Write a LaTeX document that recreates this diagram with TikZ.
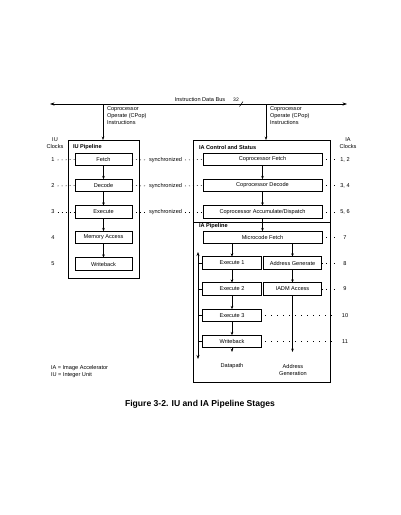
\documentclass[tikz,border=0pt]{standalone}
\usepackage{fontspec}
\setmainfont{Liberation Sans}
\usetikzlibrary{arrows.meta}
\begin{document}
\begin{tikzpicture}[x=1pt,y=-1pt,
  every node/.style={inner sep=0pt,outer sep=0pt},
  txt/.style={font=\fontsize{5.6}{7}\selectfont},
  ttl/.style={font=\fontsize{5.6}{7}\selectfont\bfseries,anchor=west},
  stage/.style={draw,line width=0.6pt,minimum height=12.5pt,font=\fontsize{5.6}{7}\selectfont},
  iustage/.style={stage,minimum width=57pt},
  cstage/.style={stage,minimum width=119pt},
  hstage/.style={stage,minimum width=58.5pt},
  frame/.style={draw,line width=0.8pt},
  arr/.style={line width=0.6pt,-{Stealth[length=3.4pt,width=2.6pt]}},
  dots/.style={line width=0.5pt,dash pattern=on 1pt off 3pt},
  sparsedots/.style={line width=0.6pt,dash pattern=on 1pt off 5pt}]
\useasboundingbox (0,0) rectangle (400,515);
\fill[white] (0,0) rectangle (400,515);

% bus
\coordinate (busL) at (50,104);
\coordinate (busR) at (347,104);
\draw[line width=0.7pt,{Stealth[length=4.5pt,width=3.2pt]}-{Stealth[length=4.5pt,width=3.2pt]}] (busL) -- (busR);
\node[txt] (busT) at (200,99) {Instruction Data Bus};
\node[txt,font=\fontsize{5}{6}\selectfont] (w32) at (236,100) {32};
\coordinate (s1) at (239.5,106.5);
\coordinate (s2) at (243,101.5);
\draw[line width=0.5pt] (s1) -- (s2);
\coordinate (dL) at (103,104);
\coordinate (dR) at (266,104);

% frames
\node[frame,minimum width=71pt,minimum height=138pt,anchor=north west] (iu) at (68,140) {};
\node[frame,minimum width=137pt,minimum height=242pt,anchor=north west] (ia) at (193,140) {};
\coordinate (divL) at (193,222);
\coordinate (divR) at (330,222);
\draw[line width=0.6pt] (divL) -- (divR);

\draw[arr] (dL) -- (dL |- iu.north);
\draw[arr] (dR) -- (dR |- ia.north);
\node[txt,anchor=north west,align=left] (cpL) at (107,107) {Coprocessor\\Operate (CPop)\\Instructions};
\node[txt,anchor=north west,align=left] (cpR) at (270,107) {Coprocessor\\Operate (CPop)\\Instructions};

\node[txt,align=center] (iuclk) at (55,143.5) {IU\\Clocks};
\node[txt,align=center] (iaclk) at (348,143.5) {IA\\Clocks};

\node[ttl] (iut) at (73,147) {IU Pipeline};
\node[ttl] (iat) at (199,147) {IA Control and Status};
\node[ttl] (iapt) at (199,226.5) {IA Pipeline};

% IU stages
\node[iustage] (f) at (103.5,159.5) {Fetch};
\node[iustage] (d) at (103.5,185.5) {Decode};
\node[iustage] (e) at (103.5,212) {Execute};
\node[iustage] (m) at (103.5,237.5) {Memory Access};
\node[iustage] (w) at (103.5,264) {Writeback};
\draw[arr] (f) -- (d);
\draw[arr] (d) -- (e);
\draw[arr] (e) -- (m);
\draw[arr] (m) -- (w);

% IU clock numbers
\node[txt] (n1) at (53,160) {1};
\node[txt] (n2) at (53,186) {2};
\node[txt] (n3) at (53,212) {3};
\node[txt] (n4) at (53,238) {4};
\node[txt] (n5) at (53,264) {5};
\draw[dots] ([xshift=3pt]n1.east) -- (f.west);
\draw[dots] ([xshift=3pt]n2.east) -- (d.west);
\draw[dots] ([xshift=3pt]n3.east) -- (e.west);

% IA control stages
\node[cstage] (cf) at (262.5,159.5) {Coprocessor Fetch};
\node[cstage] (cd) at (262.5,185.5) {Coprocessor Decode};
\node[cstage] (ca) at (262.5,212) {Coprocessor Accumulate/Dispatch};
\node[cstage] (mf) at (262.5,237.5) {Microcode Fetch};
\draw[arr] (cf) -- (cd);
\draw[arr] (cd) -- (ca);
\draw[arr] (ca) -- (mf);

% synchronized
\node[txt] (sy1) at (165.5,160) {synchronized};
\node[txt] (sy2) at (165.5,186) {synchronized};
\node[txt] (sy3) at (165.5,212) {synchronized};
\draw[dots] (f.east) -- ([xshift=-3pt]sy1.west);
\draw[dots] ([xshift=3pt]sy1.east) -- (cf.west);
\draw[dots] (d.east) -- ([xshift=-3pt]sy2.west);
\draw[dots] ([xshift=3pt]sy2.east) -- (cd.west);
\draw[dots] (e.east) -- ([xshift=-3pt]sy3.west);
\draw[dots] ([xshift=3pt]sy3.east) -- (ca.west);

% IA pipeline stages
\node[hstage] (e1) at (232,263) {Execute 1};
\node[hstage] (ag) at (292.5,263) {Address Generate};
\node[hstage] (e2) at (232,289) {Execute 2};
\node[hstage] (ad) at (292.5,289) {IADM Access};
\node[hstage] (e3) at (232,315.5) {Execute 3};
\node[hstage] (wb) at (232,341.5) {Writeback};
\draw[arr] (mf.south -| e1) -- (e1);
\draw[arr] (mf.south -| ag) -- (ag);
\draw[arr] (e1) -- (e2);
\draw[arr] (e2) -- (e3);
\draw[arr] (e3) -- (wb);
\draw[arr] (ag) -- (ad);

\node[txt] (dp) at (232,366) {Datapath};
\node[txt,align=center] (agn) at (293,369.5) {Address\\Generation};
\draw[arr] (wb) -- ++(0,10.5);
\draw[arr] (ad) -- ++(0,63);

% feedback bus
\coordinate (lt) at (198,252);
\coordinate (lb) at (198,359);
\draw[line width=0.9pt,{Stealth[length=4pt,width=3pt]}-{Stealth[length=4pt,width=3pt]}] (lt) -- (lb);
\foreach \s in {e1,e2,e3,wb}{
  \draw[line width=0.6pt] (\s.west) -- (\s.west -| lt);
}

% IA clock numbers
\node[txt] (r1) at (345,160) {1, 2};
\node[txt] (r2) at (345,186) {3, 4};
\node[txt] (r3) at (345,212) {5, 6};
\node[txt] (r4) at (345,238) {7};
\node[txt] (r5) at (345,264) {8};
\node[txt] (r6) at (345,289) {9};
\node[txt] (r7) at (345,316) {10};
\node[txt] (r8) at (345,342) {11};
\coordinate (rstop) at (336,0);
\draw[dots] (cf.east) -- (cf.east -| rstop);
\draw[dots] (cd.east) -- (cd.east -| rstop);
\draw[dots] (ca.east) -- (ca.east -| rstop);
\draw[dots] (mf.east) -- (mf.east -| rstop);
\draw[dots] (ag.east) -- (ag.east -| rstop);
\draw[dots] (ad.east) -- (ad.east -| rstop);
\draw[sparsedots] ([xshift=4pt]e3.east) -- (e3.east -| rstop);
\draw[sparsedots] ([xshift=4pt]wb.east) -- (wb.east -| rstop);

% legend
\node[txt,anchor=west] (lg1) at (51,368) {IA = Image Accelerator};
\node[txt,anchor=west] (lg2) at (51,375) {IU = Integer Unit};

% caption
\node[font=\fontsize{8.6}{10}\selectfont\bfseries] (cap) at (200,404) {Figure 3-2. IU and IA Pipeline Stages};
\end{tikzpicture}
\end{document}
